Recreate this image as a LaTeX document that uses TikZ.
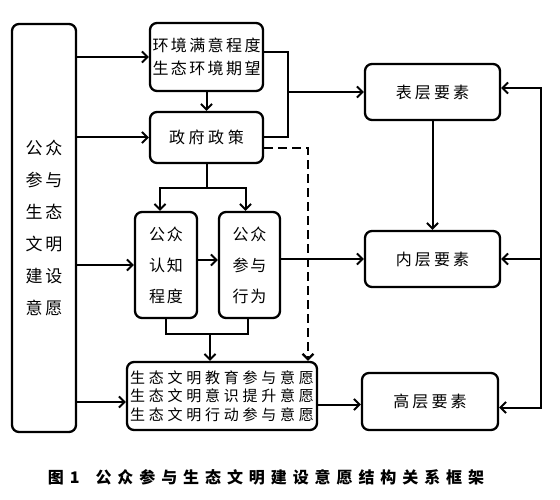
\documentclass[tikz,border=0pt]{standalone}
\usepackage{fontspec}
\setmainfont{Noto Sans CJK SC}
\usetikzlibrary{arrows.meta,calc}
\tikzset{
  box/.style={draw, line width=2.3pt, rounded corners=7pt, inner sep=0pt, align=center},
  ln/.style={line width=2pt, line cap=rect},
  ar/.style={ln, -{Straight Barb[length=5.5pt,width=11pt]}},
  dsh/.style={line width=2.2pt, dash pattern=on 9pt off 5pt, -{Straight Barb[length=5.5pt,width=11pt]}},
  fA/.style={font=\fontsize{16}{23}\selectfont\addfontfeature{LetterSpace=15}},
  fB/.style={font=\fontsize{16}{20}\selectfont\addfontfeature{LetterSpace=22}},
  fL/.style={font=\fontsize{17}{32}\selectfont\addfontfeature{LetterSpace=20}},
  fC/.style={font=\fontsize{16}{31}\selectfont\addfontfeature{LetterSpace=10}},
  fE/.style={font=\fontsize{15}{18.5}\selectfont\addfontfeature{LetterSpace=25}},
  fR/.style={font=\fontsize{16}{20}\selectfont\addfontfeature{LetterSpace=19}},
}
\begin{document}
\begin{tikzpicture}[x=1pt,y=-1pt]
\useasboundingbox (0,0) rectangle (560,500);
% boxes
\node[box, fL, minimum width=64pt, minimum height=408pt] (L) at (44,228)
  {公\hspace{3pt}众\\参\hspace{3pt}与\\生\hspace{3pt}态\\文\hspace{3pt}明\\建\hspace{3pt}设\\意\hspace{3pt}愿};
\node[box, fA, minimum width=113pt, minimum height=68pt] (A) at (206.5,57) {环境满意程度\\生态环境期望};
\node[box, fB, minimum width=113pt, minimum height=51pt] (B) at (206.5,137.5) {政府政策};
\node[box, fC, minimum width=62pt, minimum height=106pt] (C) at (166,265) {公众\\认知\\程度};
\node[box, fC, minimum width=61pt, minimum height=106pt] (D) at (249.5,265) {公众\\参与\\行为};
\node[box, fE, minimum width=190pt, minimum height=68pt] (E) at (222,396) {生态文明教育参与意愿\\生态文明意识提升意愿\\生态文明行动参与意愿};
\node[box, fR, minimum width=135pt, minimum height=56pt] (R1) at (432.5,92) {表层要素};
\node[box, fR, minimum width=135pt, minimum height=56pt] (R2) at (432.5,259) {内层要素};
\node[box, fR, minimum width=136pt, minimum height=57pt] (R3) at (430,401.5) {高层要素};
% caption
\node[font=\fontsize{16}{18}\selectfont\bfseries\addfontfeature{LetterSpace=37}] (cap) at (266,477)
  {图1\hspace{16pt}公众参与生态文明建设意愿结构关系框架};
% coordinates
\coordinate (J) at (288,92);
\coordinate (DD) at (308,148);
\coordinate (S) at (205,188);
\coordinate (M) at (210,334);
\coordinate (RR) at (541,0);
\path ([yshift=-6pt]E.west) coordinate (Ew);
\path ([yshift=-6pt]R3.east) coordinate (R3e);
\path ([yshift=4pt]R1.east) coordinate (R1e);
% left box arrows
\draw[ar] (L.east |- A.west) -- (A.west);
\draw[ar] (L.east |- B.west) -- (B.west);
\draw[ar] (L.east |- C.west) -- (C.west);
\draw[ar] (L.east |- Ew) -- (Ew);
% A, B
\draw[ar] (A.south) -- (B.north);
\draw[ln] ([yshift=5pt]A.east) -| (J);
\draw[ln] (B.east) -| (J);
\draw[ar] (J) -- (J -| R1.west);
\draw[dsh] (B.east |- DD) -- (DD) -- (DD |- E.north);
% split to C, D
\draw[ln] (B.south) -- (B.south |- S);
\draw[ar] (B.south |- S) -| ([xshift=-6pt]C.north);
\draw[ar] (B.south |- S) -| ([xshift=-4pt]D.north);
\draw[ar] ([yshift=5pt]C.east) -- ([yshift=5pt]D.west);
\draw[ar] (R2.west -| D.east) -- (R2.west);
% merge to E
\draw[ln] (C.south) |- (M) -| ([xshift=-2pt]D.south);
\draw[ar] (M) -- (M |- E.north);
\draw[ar] ([yshift=-3pt]R3.west -| E.east) -- ([yshift=-3pt]R3.west);
% right column
\draw[ar] (R1.south) -- (R2.north);
\draw[ar] (RR |- R3e) |- (R1e);
\draw[ar] (RR |- R2.east) -- (R2.east);
\draw[ar] (RR |- R3e) -- (R3e);
\end{tikzpicture}
\end{document}
